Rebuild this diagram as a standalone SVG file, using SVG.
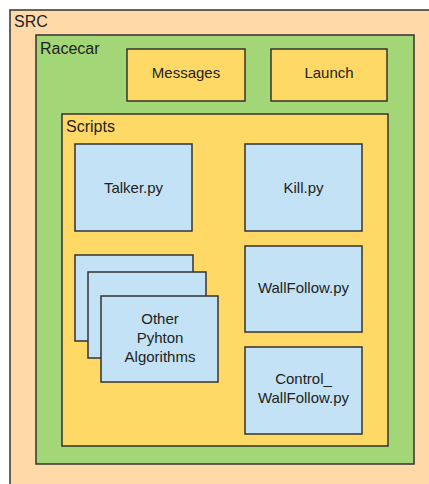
<svg xmlns="http://www.w3.org/2000/svg" width="429" height="484" viewBox="0 0 429 484">
<style>
rect{stroke:#333;stroke-width:1.5}
.src{fill:#FFD9A8}
.grn{fill:#A2D677}
.yel{fill:#FFD966}
.blu{fill:#C3E2F5}
text{font-family:"Liberation Sans",Arial,sans-serif;fill:#222}
.t{font-size:15px;text-anchor:middle}
.h{font-size:16px}
</style>
<rect width="429" height="484" fill="#fff" style="stroke:none"/>
<g id="src"><rect class="src" x="10" y="10" width="430" height="490"/><text class="h" x="14" y="27">SRC</text></g>
<g id="racecar"><rect class="grn" x="36" y="35" width="378" height="429"/><text class="h" x="40" y="54">Racecar</text></g>
<g id="messages"><rect class="yel" x="127" y="49" width="118" height="52"/><text class="t" x="186" y="78">Messages</text></g>
<g id="launch"><rect class="yel" x="271" y="49" width="116" height="52"/><text class="t" x="329" y="78">Launch</text></g>
<g id="scripts"><rect class="yel" x="62" y="114" width="326" height="332"/><text class="h" x="66" y="132">Scripts</text></g>
<g id="talker"><rect class="blu" x="75" y="144" width="117" height="87"/><text class="t" x="133.5" y="193">Talker.py</text></g>
<g id="kill"><rect class="blu" x="245" y="144" width="117" height="87"/><text class="t" x="303.5" y="193">Kill.py</text></g>
<g id="other">
<rect class="blu" x="75" y="255" width="118" height="86"/>
<rect class="blu" x="88" y="272" width="118" height="86"/>
<rect class="blu" x="101" y="296" width="117" height="86"/>
<text class="t" x="160" y="324">Other</text>
<text class="t" x="160" y="343">Pyhton</text>
<text class="t" x="160" y="362">Algorithms</text>
</g>
<g id="wallfollow"><rect class="blu" x="245" y="246" width="117" height="86"/><text class="t" x="303.5" y="293">WallFollow.py</text></g>
<g id="control"><rect class="blu" x="245" y="347" width="117" height="87"/><text class="t" x="303.5" y="384">Control_</text><text class="t" x="303.5" y="403">WallFollow.py</text></g>
<g id="connectors"/>
</svg>
